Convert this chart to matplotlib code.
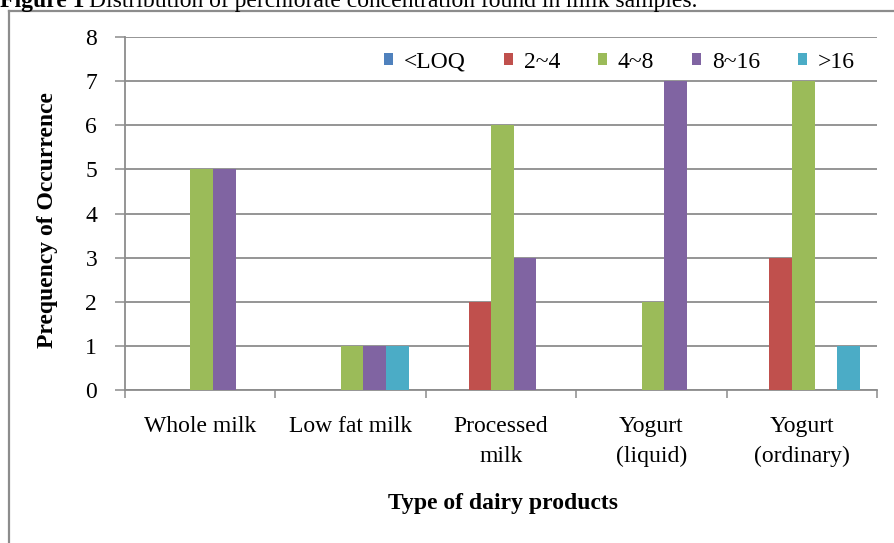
import matplotlib
matplotlib.use("Agg")
import matplotlib.pyplot as plt
import numpy as np
from matplotlib.lines import Line2D

categories = ["Whole milk", "Low fat milk", "Processed\nmilk", "Yogurt\n(liquid)", "Yogurt\n(ordinary)"]
series_names = ["<LOQ", "2~4", "4~8", "8~16", ">16"]
loq = [0, 0, 0, 0, 0]
c2_4 = [0, 0, 2, 0, 3]
c4_8 = [5, 1, 6, 2, 7]
c8_16 = [5, 1, 3, 7, 0]
gt16 = [0, 1, 0, 0, 1]
series_values = [loq, c2_4, c4_8, c8_16, gt16]
colors = ["#4F81BD", "#C0504D", "#9BBB59", "#8064A2", "#4BACC6"]
yticks = [0, 1, 2, 3, 4, 5, 6, 7, 8]

W, H = 895, 543
plt.rcParams['font.family'] = ['Liberation Serif', 'DejaVu Serif']
FS = 17
grid_c = "#8C8C8C"

fig = plt.figure(figsize=(W / 100, H / 100), dpi=100)
fig.patch.set_facecolor("white")

ax = fig.add_axes([125 / W, 1 - 390 / H, 752 / W, 353 / H])
x = np.arange(len(categories))
bw = 0.15
for i, (name, vals, col) in enumerate(zip(series_names, series_values, colors)):
    ax.bar(x + (i - 2) * bw + 0.01, vals, width=bw, color=col, label=name, linewidth=0, zorder=3)

ax.set_xlim(-0.5, len(categories) - 0.5)
ax.set_ylim(0, 8)
ax.set_yticks(yticks)
ax.set_yticklabels([str(v) for v in yticks], fontsize=FS)
ax.set_xticks(x)
ax.set_xticklabels(categories, fontsize=FS, linespacing=1.55)
ax.set_xticks(np.arange(-0.5, len(categories)), minor=True)
ax.tick_params(axis='x', which='major', length=0, pad=19)
ax.tick_params(axis='x', which='minor', length=6, width=1.1, color=grid_c, direction='out')
ax.tick_params(axis='y', length=7, width=1.1, color=grid_c, direction='out', pad=13)

ax.yaxis.grid(True, color=grid_c, linewidth=1.3, zorder=0)
ax.set_axisbelow(True)
for s in ['top', 'right']:
    ax.spines[s].set_visible(False)
for s in ['left', 'bottom']:
    ax.spines[s].set_color(grid_c)
    ax.spines[s].set_linewidth(1.3)

leg = ax.legend(ncol=5, frameon=False, loc='center right',
                bbox_to_anchor=((855 - 125) / 752, (390 - 62) / 353),
                fontsize=FS, handlelength=0.4, handleheight=0.4,
                handletextpad=0.45, columnspacing=1.6, borderpad=0,
                borderaxespad=0)

fig.text(48 / W, 1 - 220 / H, "Prequency of Occurrence", rotation=90,
         ha='center', va='center', fontsize=FS, fontweight='bold')
fig.text(503 / W, 1 - 503 / H, "Type of dairy products",
         ha='center', va='center', fontsize=FS, fontweight='bold')

# Title (cut off at top of image, as in the reference)
t1 = fig.text(0.0, 1 - 7 / H, "Figure 1", ha='left', va='baseline',
              fontsize=FS, fontweight='bold')
fig.canvas.draw()
r = fig.canvas.get_renderer()
bb = t1.get_window_extent(renderer=r)
fig.text(bb.x1 / W + 5 / W, 1 - 7 / H,
         "Distribution of perchlorate concentration found in milk samples.",
         ha='left', va='baseline', fontsize=FS)

# Outer chart frame (left and top edges visible)
fig.add_artist(Line2D([9 / W, 9 / W], [0, 1 - 11 / H], transform=fig.transFigure,
                      color="#8C8C8C", linewidth=1.6))
fig.add_artist(Line2D([9 / W, 1.0], [1 - 11 / H, 1 - 11 / H], transform=fig.transFigure,
                      color="#8C8C8C", linewidth=1.6))

fig.savefig("out.png", dpi=100)
